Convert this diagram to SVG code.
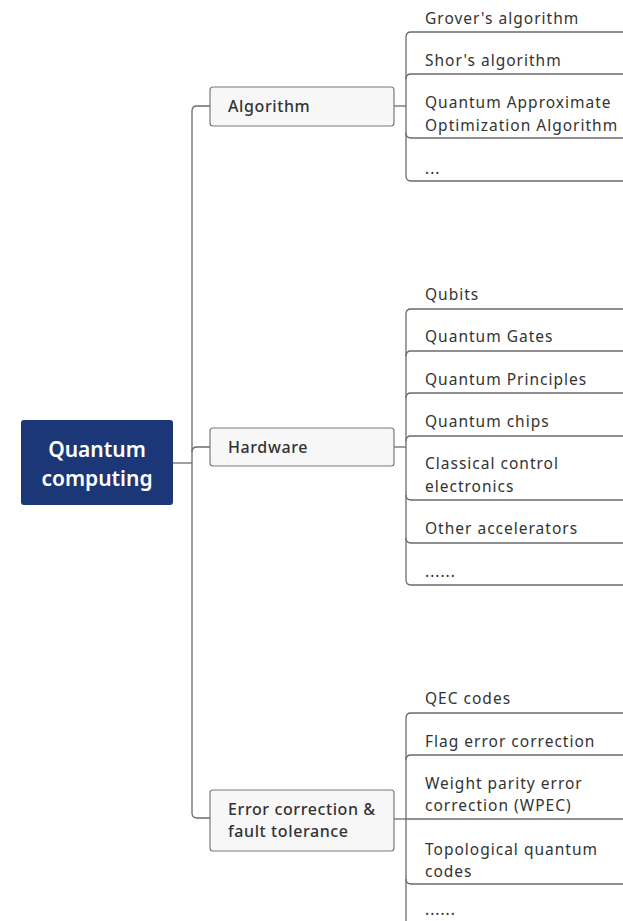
<svg xmlns="http://www.w3.org/2000/svg" width="623" height="921" viewBox="0 0 623 921">
<style>
.bg{fill:#ffffff}
.ln{fill:none;stroke:#6b6b6b;stroke-width:1.3}
.box{fill:#f7f7f7;stroke:#7a7a7a;stroke-width:1.2}
.bt{font-family:"Noto Sans","Open Sans",sans-serif;font-size:16px;fill:#333333;font-weight:500;letter-spacing:0.6px}
.lt{font-family:"Noto Sans","Open Sans",sans-serif;font-size:15.5px;fill:#333333;letter-spacing:1px}
.rt{font-family:"Noto Sans","Open Sans",sans-serif;font-size:21px;fill:#ffffff;font-weight:600;text-anchor:middle}
</style>
<rect class="bg" x="0" y="0" width="623" height="921"/>
<g id="connectors">
  <path class="ln" d="M173,463 H192"/>
  <path class="ln" d="M210,106 H197 Q192,106 192,111 V813 Q192,818 197,818 H210"/>
  <path class="ln" d="M210,447 H197 Q192,447 192,452"/>
  <path class="ln" d="M394,106 H406"/>
  <path class="ln" d="M406,37 V176"/>
  <path class="ln" d="M406,37 Q406,32 411,32 H623"/>
  <path class="ln" d="M406,79 Q406,74 411,74 H623"/>
  <path class="ln" d="M406,133 Q406,138 411,138 H623"/>
  <path class="ln" d="M406,176 Q406,181 411,181 H623"/>
  <path class="ln" d="M394,447 H406"/>
  <path class="ln" d="M406,314 V580"/>
  <path class="ln" d="M406,314 Q406,309 411,309 H623"/>
  <path class="ln" d="M406,356 Q406,351 411,351 H623"/>
  <path class="ln" d="M406,398 Q406,393 411,393 H623"/>
  <path class="ln" d="M406,441 Q406,436 411,436 H623"/>
  <path class="ln" d="M406,495 Q406,500 411,500 H623"/>
  <path class="ln" d="M406,538 Q406,543 411,543 H623"/>
  <path class="ln" d="M406,580 Q406,585 411,585 H623"/>
  <path class="ln" d="M394,819 H406"/>
  <path class="ln" d="M406,718 V921"/>
  <path class="ln" d="M406,718 Q406,713 411,713 H623"/>
  <path class="ln" d="M406,760 Q406,755 411,755 H623"/>
  <path class="ln" d="M406,819 H623"/>
  <path class="ln" d="M406,879 Q406,884 411,884 H623"/>
</g>
<g id="root">
  <rect x="21" y="420" width="152" height="85" rx="3" fill="#1c3777"/>
  <text class="rt" x="97" y="457">Quantum</text>
  <text class="rt" x="97" y="486">computing</text>
</g>
<g id="algorithm">
  <rect class="box" x="210" y="87" width="184" height="39" rx="3"/>
  <text class="bt" x="228" y="112">Algorithm</text>
</g>
<g id="hardware">
  <rect class="box" x="210" y="428" width="184" height="38" rx="3"/>
  <text class="bt" x="228" y="453">Hardware</text>
</g>
<g id="error">
  <rect class="box" x="210" y="790" width="184" height="61" rx="3"/>
  <text class="bt" x="228" y="815">Error correction &amp;</text>
  <text class="bt" x="228" y="837">fault tolerance</text>
</g>
<g id="grover"><text class="lt" x="425" y="24">Grover's algorithm</text></g>
<g id="shor"><text class="lt" x="425" y="66">Shor's algorithm</text></g>
<g id="qaoa"><text class="lt" x="425" y="108">Quantum Approximate</text><text class="lt" x="425" y="131">Optimization Algorithm</text></g>
<g id="alg-more"><text class="lt" x="425" y="174">...</text></g>
<g id="qubits"><text class="lt" x="425" y="300">Qubits</text></g>
<g id="gates"><text class="lt" x="425" y="342">Quantum Gates</text></g>
<g id="principles"><text class="lt" x="425" y="385">Quantum Principles</text></g>
<g id="chips"><text class="lt" x="425" y="427">Quantum chips</text></g>
<g id="classical"><text class="lt" x="425" y="469">Classical control</text><text class="lt" x="425" y="492">electronics</text></g>
<g id="accelerators"><text class="lt" x="425" y="534">Other accelerators</text></g>
<g id="hw-more"><text class="lt" x="425" y="577">......</text></g>
<g id="qec"><text class="lt" x="425" y="704">QEC codes</text></g>
<g id="flag"><text class="lt" x="425" y="747">Flag error correction</text></g>
<g id="wpec"><text class="lt" x="425" y="789">Weight parity error</text><text class="lt" x="425" y="811">correction (WPEC)</text></g>
<g id="topo"><text class="lt" x="425" y="855">Topological quantum</text><text class="lt" x="425" y="877">codes</text></g>
<g id="ec-more"><text class="lt" x="425" y="915">......</text></g>
</svg>
